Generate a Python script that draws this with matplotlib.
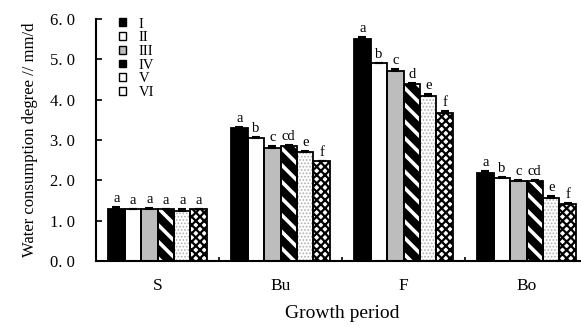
import numpy as np
import matplotlib
matplotlib.use('Agg')
import matplotlib.pyplot as plt
from matplotlib.patches import Patch

periods = ['S', 'Bu', 'F', 'Bo']
treatments = ['I', 'II', 'III', 'IV', 'V', 'VI']

# water consumption per treatment, one list per treatment (S, Bu, F, Bo)
val_I   = [1.28, 3.29, 5.50, 2.18]
val_II  = [1.28, 3.06, 4.91, 2.07]
val_III = [1.28, 2.80, 4.70, 1.99]
val_IV  = [1.28, 2.85, 4.39, 1.99]
val_V   = [1.25, 2.71, 4.08, 1.57]
val_VI  = [1.28, 2.48, 3.68, 1.41]

err_I   = [0.05, 0.04, 0.05, 0.04]
err_II  = [0.01, 0.01, 0.01, 0.01]
err_III = [0.03, 0.04, 0.06, 0.03]
err_IV  = [0.02, 0.03, 0.02, 0.01]
err_V   = [0.04, 0.02, 0.06, 0.04]
err_VI  = [0.01, 0.01, 0.03, 0.02]

let_I   = ['a', 'a', 'a', 'a']
let_II  = ['a', 'b', 'b', 'b']
let_III = ['a', 'c', 'c', 'c']
let_IV  = ['a', 'cd', 'd', 'cd']
let_V   = ['a', 'e', 'e', 'e']
let_VI  = ['a', 'f', 'f', 'f']

values = [val_I, val_II, val_III, val_IV, val_V, val_VI]
errors = [err_I, err_II, err_III, err_IV, err_V, err_VI]
letters = [let_I, let_II, let_III, let_IV, let_V, let_VI]

# (face, hatch, hatch colour)
styles = [('black', None, 'black'),
          ('white', None, 'black'),
          ('#bdbdbd', None, 'black'),
          ('black', '\\\\', 'white'),
          ('white', '.....', '#b0b0b0'),
          ('white', 'xxxx', 'black')]
hatch_lw = [1.0, 1.0, 1.0, 2.6, 0.8, 1.6]

serif = ['Liberation Serif', 'DejaVu Serif']
plt.rcParams['font.family'] = serif

fig = plt.figure(figsize=(5.81, 3.26), dpi=100)
ax = fig.add_axes([96/581, 65/326, 492/581, 242/326])

x = np.arange(len(periods))
w = 0.134
for i in range(6):
    face, hatch, hcol = styles[i]
    pos = x + (i - 2.5) * w
    with plt.rc_context({'hatch.linewidth': hatch_lw[i]}):
        ax.bar(pos, values[i], w, color=face, edgecolor=hcol, hatch=hatch,
               linewidth=0, zorder=2)
    ax.bar(pos, values[i], w, fill=False, edgecolor='black', linewidth=1.3, zorder=3)
    ax.errorbar(pos, values[i], yerr=[np.zeros(4), errors[i]], fmt='none',
                ecolor='black', elinewidth=1.2, capsize=3, capthick=1.5, zorder=4)
    for j in range(4):
        ax.text(pos[j], values[i][j] + errors[i][j] + 0.05, letters[i][j],
                ha='center', va='bottom', fontsize=10.5)

ax.set_xlim(-0.5, 3.5)
ax.set_ylim(0, 6)
ax.set_yticks(np.arange(0, 7, 1))
ax.set_yticklabels(['%d. 0' % v for v in range(7)], fontsize=12)
ax.set_xticks(x)
ax.set_xticklabels(periods, fontsize=12.5)
ax.set_xticks([0.5, 1.5, 2.5], minor=True)
ax.tick_params(axis='x', which='major', length=0, pad=12)
ax.tick_params(axis='x', which='minor', direction='in', length=3, width=1.2)
ax.tick_params(axis='y', direction='in', length=4, width=1.2, pad=15)
for s in ['top', 'right']:
    ax.spines[s].set_visible(False)
for s in ['left', 'bottom']:
    ax.spines[s].set_linewidth(1.5)

ax.set_xlabel('Growth period', fontsize=14, labelpad=8)
ax.set_ylabel('Water consumption degree // mm/d', fontsize=12, labelpad=9)

handles = []
for i in range(6):
    face, hatch, hcol = styles[i]
    handles.append(Patch(facecolor=face, edgecolor='black', linewidth=1.0))
ax.legend(handles, treatments, loc='upper left', bbox_to_anchor=(0.035, 1.03),
          frameon=False, fontsize=10.5, handlelength=0.45, handleheight=0.45,
          labelspacing=0.05, handletextpad=0.9, borderaxespad=0)

fig.savefig('out.png', dpi=100)
